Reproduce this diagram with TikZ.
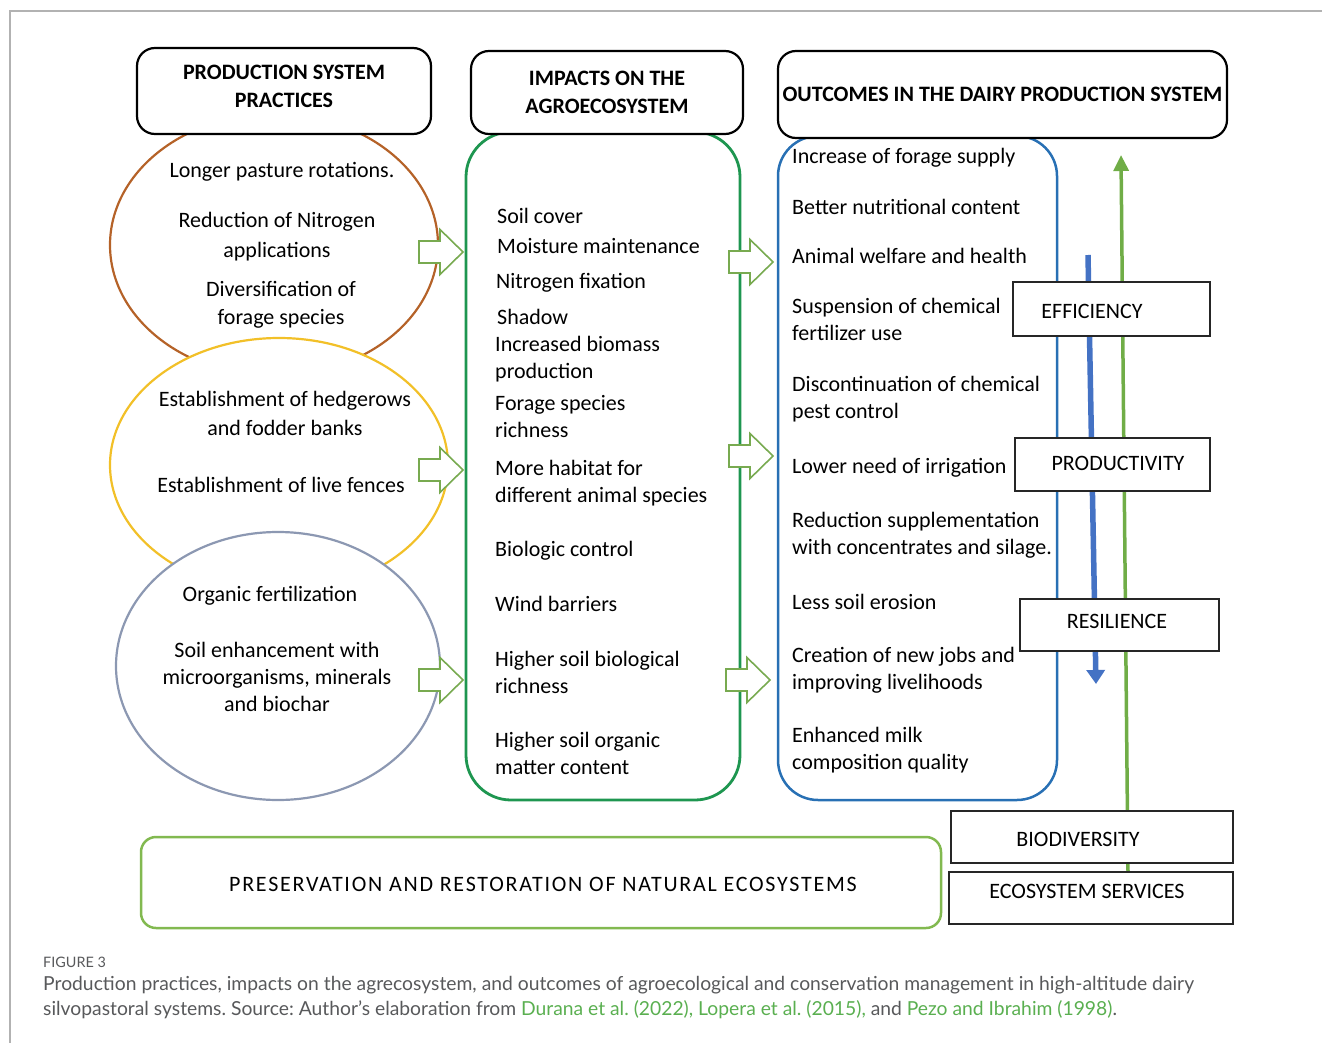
\documentclass[tikz,border=0pt]{standalone}
\usepackage{fontspec}
\setmainfont{Carlito}
\newfontfamily\capfont{Lato}
\usetikzlibrary{arrows.meta,%
                shapes.geometric,positioning}
\frenchspacing

\definecolor{brownline}{RGB}{181,98,40}
\definecolor{yellowline}{RGB}{242,192,40}
\definecolor{grayline}{RGB}{140,152,178}
\definecolor{impgreen}{RGB}{30,150,80}
\definecolor{outblue}{RGB}{40,112,180}
\definecolor{upgreen}{RGB}{112,173,71}
\definecolor{downblue}{RGB}{68,114,196}
\definecolor{hollowgreen}{RGB}{120,170,80}
\definecolor{basegreen}{RGB}{130,185,80}
\definecolor{capgray}{RGB}{88,89,91}
\definecolor{linkgreen}{RGB}{90,175,80}

\tikzset{
  headbox/.style={draw=black, line width=2.2pt, rounded corners=18pt, fill=white,
    align=center, inner sep=0pt, font=\fontsize{22}{28}\selectfont\bfseries},
  headtxt/.style={align=center, inner sep=0pt, font=\fontsize{22}{28}\selectfont\bfseries},
  practice/.style={ellipse, draw, line width=2.2pt, fill=white, inner sep=0pt},
  ovaltxt/.style={align=center, inner sep=0pt, font=\fontsize{22}{28}\selectfont},
  itemtxt/.style={align=left, anchor=west, inner sep=0pt, font=\fontsize{22}{27}\selectfont},
  listbox/.style={draw, line width=2.8pt, rounded corners=45pt, inner sep=0pt},
  tagbox/.style={draw=black!85, line width=1.5pt, fill=white, inner sep=0pt},
  tagtxt/.style={inner sep=0pt, font=\fontsize{22}{26}\selectfont},
  hollowarrow/.style={draw=hollowgreen, line width=1.6pt, fill=white, line join=miter},
  captxt/.style={anchor=west, inner sep=0pt, text=capgray, font=\capfont\fontsize{19.3}{22}\selectfont}
}

\newcommand{\BlockArrow}[2]{%
  \draw[hollowarrow, shift={(#1,#2)}] (-44,-11) -- (-23,-11) -- (-23,-22.5) -- (0,0)
    -- (-23,22.5) -- (-23,11) -- (-44,11) -- cycle;}

\begin{document}
\begin{tikzpicture}[x=1pt,y=-1pt]
\useasboundingbox (0,0) rectangle (1322,1043);
\draw[black!30, line width=1.5pt] (10,1043) -- (10,11) -- (1322,11);

% practices
\node[practice, draw=brownline, minimum width=328pt, minimum height=262pt] (oval1) at (274,245) {};
\node[practice, draw=yellowline, minimum width=338pt, minimum height=254pt] (oval2) at (279,465) {};
\node[practice, draw=grayline, minimum width=324pt, minimum height=268pt] (oval3) at (278,666) {};

\node[listbox, draw=impgreen, minimum width=274pt, minimum height=668pt] (impbox) at (603,466) {};
\node[listbox, draw=outblue, line width=2.5pt, rounded corners=40pt,
      minimum width=279pt, minimum height=664pt] (outbox) at (917.5,468) {};

\node[headbox, minimum width=294pt, minimum height=86pt] (hdrprac) at (284,91) {};
\node[headtxt] (hdrpractxt) at (284,86) {PRODUCTION SYSTEM\\PRACTICES};
\node[headbox, minimum width=272pt, minimum height=83pt] (hdrimp) at (607,92.5) {IMPACTS ON THE\\AGROECOSYSTEM};
\node[headbox, minimum width=449pt, minimum height=87pt] (hdrout) at (1002.5,94.5) {OUTCOMES IN THE DAIRY PRODUCTION SYSTEM};

\node[ovaltxt] (rotation) at (282,172) {Longer pasture rotations.};
\node[ovaltxt, font=\fontsize{22}{30}\selectfont] (nitro) at (277,237) {Reduction of Nitrogen\\applications};
\node[ovaltxt] (diversif) at (281,305) {Diversification of\\forage species};
\node[ovaltxt, font=\fontsize{22}{29}\selectfont] (hedge) at (285,413) {Establishment of hedgerows\\and fodder banks};
\node[ovaltxt] (fences) at (281,485) {Establishment of live fences};
\node[ovaltxt] (orgfert) at (270,596) {Organic fertilization};
\node[ovaltxt, font=\fontsize{22}{27}\selectfont] (enhance) at (277,677) {Soil enhancement with\\microorganisms, minerals\\and biochar};

% impacts
\node[itemtxt] (soilcov) at (497,216) {Soil cover};
\node[itemtxt] (moist) at (497,246) {Moisture maintenance};
\node[itemtxt] (nfix) at (496,283) {Nitrogen fixation};
\node[itemtxt] (shadow) at (497,317) {Shadow};
\node[itemtxt] (biomass) at (495,359) {Increased biomass\\production};
\node[itemtxt] (richness) at (495,417) {Forage species\\richness};
\node[itemtxt] (habitat) at (495,483) {More habitat for\\different animal species};
\node[itemtxt] (bioctl) at (495,551) {Biologic control};
\node[itemtxt] (wind) at (495,604) {Wind barriers};
\node[itemtxt] (soilbio) at (495,672) {Higher soil biological\\richness};
\node[itemtxt] (soilom) at (495,753) {Higher soil organic\\matter content};

% outcomes
\node[itemtxt] (supply) at (792,158) {Increase of forage supply};
\node[itemtxt] (nutri) at (792,207) {Better nutritional content};
\node[itemtxt] (welfare) at (792,256) {Animal welfare and health};
\node[itemtxt] (fertuse) at (792,319) {Suspension of chemical\\fertilizer use};
\node[itemtxt] (pest) at (792,399) {Discontinuation of chemical\\pest control};
\node[itemtxt] (irrig) at (792,468) {Lower need of irrigation};
\node[itemtxt] (suppl) at (792,535) {Reduction supplementation\\with concentrates and silage.};
\node[itemtxt] (erosion) at (792,602) {Less soil erosion};
\node[itemtxt] (jobs) at (792,670) {Creation of new jobs and\\improving livelihoods};
\node[itemtxt] (milk) at (792,750) {Enhanced milk\\composition quality};

% up and down arrows
\coordinate (gbase) at (1128,872);
\coordinate (gtop) at (1121,155);
\coordinate (btop) at (1088,255);
\coordinate (bend) at (1096,684);
\draw[upgreen, line width=3.5pt, -{Triangle[length=16pt,width=15pt]}] (gbase) -- (gtop);
\draw[downblue, line width=5.5pt, -{Triangle[length=14pt,width=18pt]}] (btop) -- (bend);

\node[tagbox, minimum width=197pt, minimum height=54pt] (eff) at (1111.5,309) {};
\node[tagtxt] (efftxt) at (1092,311) {EFFICIENCY};
\node[tagbox, minimum width=195pt, minimum height=53pt] (prod) at (1112.5,464.5) {};
\node[tagtxt] (prodtxt) at (1118,463) {PRODUCTIVITY};
\node[tagbox, minimum width=199pt, minimum height=52pt] (resil) at (1119.5,625) {};
\node[tagtxt] (resiltxt) at (1117,621) {RESILIENCE};
\node[tagbox, minimum width=282pt, minimum height=52pt] (biodiv) at (1092,837) {};
\node[tagtxt] (biodivtxt) at (1078,839) {BIODIVERSITY};
\node[tagbox, minimum width=284pt, minimum height=52pt] (ecoserv) at (1091,898) {};
\node[tagtxt] (ecoservtxt) at (1087,891) {ECOSYSTEM SERVICES};

% hollow arrows
\BlockArrow{463}{252}
\BlockArrow{463}{470}
\BlockArrow{463}{680}
\BlockArrow{773}{262}
\BlockArrow{773}{456}
\BlockArrow{770}{680}

\node[draw=basegreen, line width=2.5pt, rounded corners=15pt, minimum width=800pt,
      minimum height=91pt, inner sep=0pt] (natural) at (541,882.5) {};
\node[tagtxt, font=\addfontfeature{LetterSpace=8}\fontsize{22}{26}\selectfont] (naturaltxt) at (543,884) {PRESERVATION AND RESTORATION OF NATURAL ECOSYSTEMS};

% caption
\node[captxt, font=\capfont\fontsize{14.4}{16}\selectfont] (fignum) at (43,962) {FIGURE 3};
\node[captxt] (capone) at (43,985) {Production practices, impacts on the agrecosystem, and outcomes of agroecological and conservation management in high-altitude dairy};
\node[captxt] (captwo) at (43,1010) {silvopastoral systems. Source: Author’s elaboration from \textcolor{linkgreen}{Durana et al. (2022), Lopera et al. (2015),} and \textcolor{linkgreen}{Pezo and Ibrahim (1998)}.};
\end{tikzpicture}
\end{document}
